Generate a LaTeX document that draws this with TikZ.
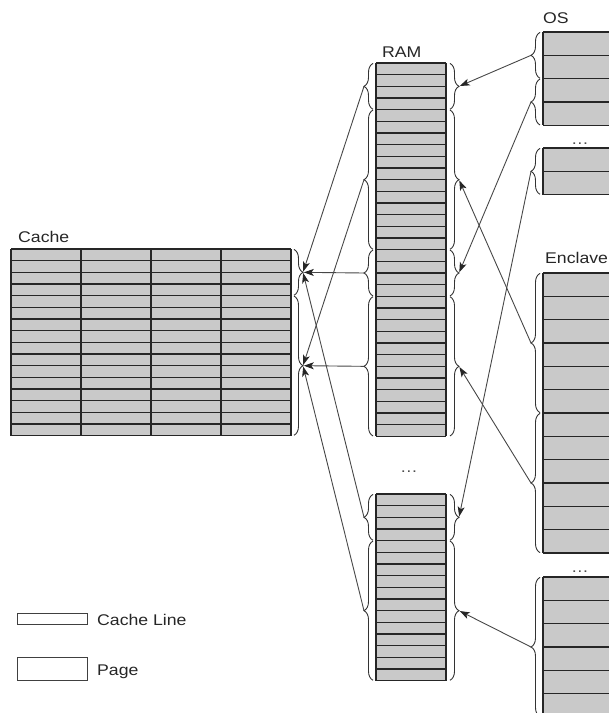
\documentclass[tikz,border=0pt]{standalone}
\usepackage{fontspec}
\setmainfont{Liberation Sans}[FakeStretch=1.14]
\usetikzlibrary{arrows.meta,decorations.pathreplacing}

% height of one cache line and of one page
\def\hl{11.667}
\def\hp{23.333}

% a column of memory rows: x-left, width, top, rows, row height
\newcommand\memcol[5]{%
  \fill[cellfill] (#1,#3) rectangle ({#1+#2},{#3+#4*#5});
  \foreach \i in {0,...,#4} \draw[gridline] (#1,{#3+\i*#5}) -- ({#1+#2},{#3+\i*#5});
  \draw[gridline] (#1,#3) -- (#1,{#3+#4*#5});
  \draw[gridline] ({#1+#2},#3) -- ({#1+#2},{#3+#4*#5});
}
% brace with tip pointing left: x, top, bottom, tip name
\newcommand\grpL[4]{%
  \draw[bracestyle] (#1,{#3-0.4}) -- (#1,{#2+0.4});
  \coordinate (#4) at ({#1-9},{(#2+#3)/2});
}
% brace with tip pointing right
\newcommand\grpR[4]{%
  \draw[bracestyle] (#1,{#2+0.4}) -- (#1,{#3-0.4});
  \coordinate (#4) at ({#1+9},{(#2+#3)/2});
}

\begin{document}
\begin{tikzpicture}[x=1pt,y=-1pt,
  cellfill/.style={fill=black!21},
  gridline/.style={draw=black!85,line width=1.25pt},
  bracestyle/.style={draw=black!80,line width=0.9pt,decorate,decoration={brace,amplitude=9pt}},
  arr/.style={draw=black!72,line width=0.9pt,-{Stealth[length=10pt,width=7pt,inset=2.5pt,color=black!85]},shorten >=0.8pt},
  lbl/.style={anchor=base west,inner sep=0pt,font=\fontsize{15.5}{18}\selectfont,text=black!85},
  dotsty/.style={anchor=base,inner sep=0pt,font=\fontsize{15.5}{18}\selectfont,text=black!70},
  legbox/.style={draw=black!75,line width=0.9pt,fill=white}]
\useasboundingbox (0,0) rectangle (609,713);
\clip (0,0) rectangle (609,713);

% ---- cache: 16 rows x 4 lines
\fill[cellfill] (11,249) rectangle (291,{249+16*\hl});
\foreach \i in {0,...,16} \draw[gridline] (11,{249+\i*\hl}) -- (291,{249+\i*\hl});
\foreach \x in {11,81,151,221,291} \draw[gridline] (\x,249) -- (\x,{249+16*\hl});
\grpR{294}{249}{295.67}{cT}
\grpR{294}{295.67}{435.67}{cB}

% ---- RAM
\memcol{376}{70}{63}{32}{\hl}
\memcol{376}{70}{494}{16}{\hl}
\grpL{373}{63}{109.67}{rL1}
\grpL{373}{109.67}{249.67}{rL2}
\grpL{373}{249.67}{296.33}{rL3}
\grpL{373}{296.33}{436.33}{rL4}
\grpR{450}{63}{109.67}{rR1}
\grpR{450}{109.67}{249.67}{rR2}
\grpR{450}{249.67}{296.33}{rR3}
\grpR{450}{296.33}{436.33}{rR4}
\grpL{373}{494}{540.67}{sL1}
\grpL{373}{540.67}{680.67}{sL2}
\grpR{450}{494}{540.67}{sR1}
\grpR{450}{540.67}{680.67}{sR2}

% ---- OS pages
\memcol{543}{70}{32}{4}{\hp}
\memcol{543}{70}{148}{2}{\hp}
\grpL{540}{32}{78.67}{oA}
\grpL{540}{78.67}{125.33}{oB}
\grpL{540}{148}{194.67}{oC}

% ---- enclave pages
\memcol{543}{70}{273}{12}{\hp}
\memcol{543}{70}{577}{6}{\hp}
\grpL{540}{273}{413}{eA}
\grpL{540}{413}{553}{eB}
\grpL{540}{577}{717}{eC}

% ---- labels
\node[lbl] (lcache) at (18,242.7) {Cache};
\node[lbl] (lram) at (382,57.3) {RAM};
\node[lbl] (los) at (543,23.3) {OS};
\node[lbl] (lencl) at (545,263) {Enclave};
\node[dotsty] (d1) at (409,472.5) {…};
\node[dotsty] (d2) at (580,144.5) {…};
\node[dotsty] (d3) at (580,572.5) {…};

% ---- mappings pages -> RAM
\draw[arr] (oA) -- (rR1);
\draw[arr] (oB) -- (rR3);
\draw[arr] (oC) -- (sR1);
\draw[arr] (eA) -- (rR2);
\draw[arr] (eB) -- (rR4);
\draw[arr] (eC) -- (sR2);

% ---- mappings RAM -> cache
\draw[arr] (rL1) -- (cT);
\draw[arr] (rL2) -- (cB);
\draw[arr] (rL3) -- (cT);
\draw[arr] (rL4) -- (cB);
\draw[arr] (sL1) -- (cT);
\draw[arr] (sL2) -- (cB);

% ---- legend
\draw[legbox] (17,613) rectangle (87,{613+\hl}) node (kline) {};
\node[lbl] (tline) at (97,625) {Cache Line};
\draw[legbox] (17,657) rectangle (87,{657+\hp}) node (kpage) {};
\node[lbl] (tpage) at (97,675.7) {Page};
\end{tikzpicture}
\end{document}
